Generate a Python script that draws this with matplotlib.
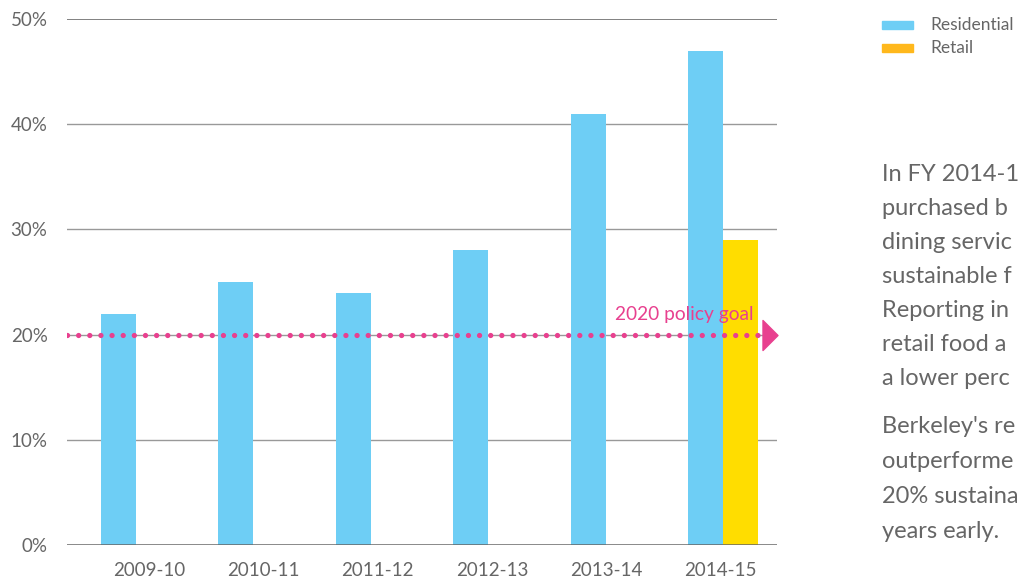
import matplotlib.pyplot as plt
import numpy as np
from matplotlib.path import Path
from matplotlib.transforms import blended_transform_factory

plt.rcParams["font.family"] = ["Lato", "DejaVu Sans"]

years = ["2009-10", "2010-11", "2011-12", "2012-13", "2013-14", "2014-15"]
residential = [22, 25, 24, 28, 41, 47]
retail = [np.nan, np.nan, np.nan, np.nan, np.nan, 29]
goal = 20
goal_label = "2020 policy goal"
y_ticks = [0, 10, 20, 30, 40, 50]

# side text, as far as it is visible in the source (it runs off the right edge)
para_1 = ["In FY 2014-1", "purchased b", "dining servic", "sustainable f",
          "Reporting in", "retail food a", "a lower perc"]
para_2 = ["Berkeley's re", "outperforme", "20% sustaina", "years early."]

BLUE = "#6ECEF5"
YELLOW = "#FFDD00"
YELLOW_KEY = "#FFB81C"
PINK = "#E8408F"
TEXT = "#666666"

fig = plt.figure(figsize=(10.18, 5.82), dpi=100)
ax = fig.add_axes([67 / 1018, 37 / 582, 710 / 1018, 526 / 582])

x = np.arange(len(years))
w = 0.298
ax.bar(x, residential, width=w, color=BLUE, zorder=2)
ax.bar(x + w, retail, width=w, color=YELLOW, zorder=2)

ax.set_xlim(-0.439, 5.609)
ax.set_ylim(0, 50)
ax.set_yticks(y_ticks)
ax.set_yticklabels([f"{t}%" for t in y_ticks])
# labels sit on a slightly tighter pitch than the bars in the source
ax.set_xticks(x * 0.974 + 0.26)
ax.set_xticklabels(years)
ax.tick_params(length=0, labelsize=13.5, colors=TEXT)
ax.tick_params(axis="y", pad=14)
ax.tick_params(axis="x", pad=12)
for s in ax.spines.values():
    s.set_visible(False)

for t in y_ticks:
    if t == 0:
        ax.axhline(t, color="#666666", lw=1.8, zorder=3)
    elif t == 50:
        ax.axhline(t, color="#777777", lw=1.3, zorder=1)
    else:
        ax.axhline(t, color="#999999", lw=1.0, zorder=1)

# policy goal: dotted line + arrow head
ax.axhline(goal, xmin=0, xmax=0.975, color=PINK, lw=3.8,
           linestyle=(0, (0.01, 2.1)), dash_capstyle="round", zorder=4)
tri = Path([(-0.5, -1), (0.5, 0), (-0.5, 1), (-0.5, -1)],
           [Path.MOVETO, Path.LINETO, Path.LINETO, Path.CLOSEPOLY])
bt = blended_transform_factory(ax.transAxes, ax.transData)
ax.plot([0.9895], [goal], marker=tri, markersize=21.6, color=PINK,
        transform=bt, clip_on=False, zorder=5)
ax.text(0.9676, goal + 1.4, goal_label, transform=bt, ha="right",
        va="baseline", color=PINK, fontsize=13.8, zorder=5)

# legend
for i, (lab, col) in enumerate([("Residential", BLUE), ("Retail", YELLOW_KEY)]):
    yy = 1 - (25 + 23 * i) / 582
    fig.patches.append(plt.Rectangle((882 / 1018, yy - 4 / 582), 31 / 1018, 8 / 582,
                                     transform=fig.transFigure, color=col))
    fig.text(930 / 1018, yy, lab, ha="left", va="center", color=TEXT, fontsize=12.5)

for i, line in enumerate(para_1):
    fig.text(882 / 1018, 1 - (173 + 34 * i + 8) / 582, line, ha="left",
             va="baseline", color=TEXT, fontsize=17)
for i, line in enumerate(para_2):
    fig.text(882 / 1018, 1 - (425 + 35 * i + 8) / 582, line, ha="left",
             va="baseline", color=TEXT, fontsize=17)

fig.savefig("out.png", dpi=100)
